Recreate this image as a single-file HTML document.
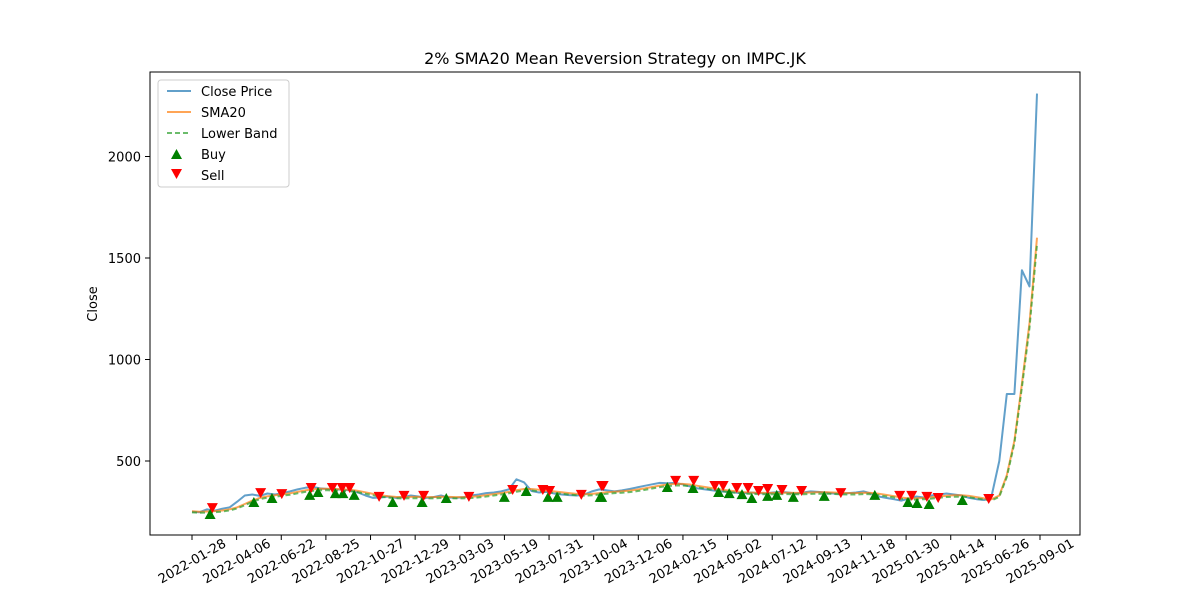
<!DOCTYPE html>
<html><head><meta charset="utf-8"><style>
body{margin:0;background:#fff;font-family:"Liberation Sans","DejaVu Sans",sans-serif}
svg text{font-family:"DejaVu Sans","Liberation Sans",sans-serif}
</style></head><body>
<svg id="chart" width="1200" height="600" xmlns="http://www.w3.org/2000/svg">
<rect width="1200" height="600" fill="#fff"/>
<text x="615" y="64" font-size="16" text-anchor="middle">2% SMA20 Mean Reversion Strategy on IMPC.JK</text>
<text transform="translate(97,304) rotate(-90)" font-size="13" text-anchor="middle">Close</text>
<g id="plot"></g>
<rect x="150" y="72" width="930" height="463" fill="none" stroke="#000" stroke-width="1"/>
<g>
<rect x="158" y="80" width="131" height="107" fill="#fff" fill-opacity="0.8" stroke="#ccc" rx="3"/>
<line x1="167" y1="91" x2="191" y2="91" stroke="#1f77b4" stroke-opacity="0.7" stroke-width="2"/>
<text x="201" y="96" font-size="13">Close Price</text>
<line x1="167" y1="112" x2="191" y2="112" stroke="#ff7f0e" stroke-opacity="0.7" stroke-width="2"/>
<text x="201" y="117" font-size="13">SMA20</text>
<line x1="167" y1="133" x2="191" y2="133" stroke="#2ca02c" stroke-opacity="0.7" stroke-width="2" stroke-dasharray="5,3"/>
<text x="201" y="138" font-size="13">Lower Band</text>
<polygon points="171,159 182,159 176.5,149" fill="#008000"/>
<text x="201" y="159" font-size="13">Buy</text>
<polygon points="171,169 182,169 176.5,179" fill="#ff0000"/>
<text x="201" y="180" font-size="13">Sell</text>
</g>
</svg>
<script>
const closeVals=[250,248,262,255,265,272,300,330,335,328,340,335,342,350,360,368,372,365,362,360,358,355,345,330,318,320,325,318,322,330,325,318,322,330,320,318,322,330,335,342,345,350,360,410,395,352,345,348,340,335,332,330,335,350,360,355,350,355,362,370,378,385,392,390,392,385,375,365,360,355,350,348,345,340,345,342,340,345,348,345,340,345,350,348,345,340,338,342,345,350,340,325,318,312,305,315,325,320,330,335,340,335,330,318,312,308,330,500,830,830,1440,1360,2310];
const smaVals=[252,250,251,253,256,262,272,288,305,318,326,331,336,341,348,355,360,363,363,362,360,358,353,346,338,331,326,323,322,323,323,322,322,324,323,322,322,324,327,332,337,342,348,356,362,362,358,354,350,346,342,338,336,338,342,346,349,351,354,359,365,372,379,384,387,387,384,378,372,366,360,355,351,347,345,344,343,343,344,344,343,343,345,346,346,345,343,342,342,344,343,339,333,327,320,316,316,318,321,325,329,331,331,328,322,316,312,330,430,600,880,1180,1600];
const buyIdx=[2.4,8.2,10.6,15.6,16.7,19.0,20.0,21.5,26.6,30.5,33.7,41.4,44.3,47.2,48.4,54.1,54.3,63.0,66.4,69.8,71.2,72.9,74.2,76.3,77.5,79.7,83.8,90.5,94.9,96.1,97.7,102.1];
const buyVals=[239,298,318,333,347,342,342,333,298,298,318,323,352,323,323,323,323,372,367,347,342,337,318,328,333,323,328,333,298,293,288,308];
const sellIdx=[2.7,9.1,11.9,15.8,18.6,19.9,20.9,24.8,28.1,30.7,36.7,42.5,46.5,47.4,51.6,54.3,54.5,64.1,66.5,69.3,70.4,72.2,73.7,75.1,76.3,78.2,80.8,86.0,93.8,95.4,97.4,98.9,105.6];
const sellVals=[268,342,337,367,367,367,367,323,328,328,323,357,357,352,333,377,377,402,402,377,377,367,367,352,362,357,352,342,328,328,323,318,313];
const tickLabels=["2022-01-28","2022-04-06","2022-06-22","2022-08-25","2022-10-27","2022-12-29","2023-03-03","2023-05-19","2023-07-31","2023-10-04","2023-12-06","2024-02-15","2024-05-02","2024-07-12","2024-09-13","2024-11-18","2025-01-30","2025-04-14","2025-06-26","2025-09-01"];
const yTicks=[500,1000,1500,2000];

const NS="http://www.w3.org/2000/svg";
const plot=document.getElementById('plot');
const X=i=>192+i*(845/112);
const Y=v=>461-(v-500)*0.203;
function mk(t,a){const e=document.createElementNS(NS,t);for(const k in a)e.setAttribute(k,a[k]);plot.appendChild(e);return e;}
const tickStep=(tickLabels.length>1)?(112*(848/845))/(tickLabels.length-1):0;
tickLabels.forEach((lab,k)=>{
  const x=X(k*tickStep);
  const t=mk('line',{x1:x,y1:535,x2:x,y2:540,stroke:'#000'});
  
  
  const cy=561;
  const tx=mk('text',{x:x,y:cy+4.5,'font-size':13,'text-anchor':'middle',transform:`rotate(-30 ${x} ${cy})`});
  tx.textContent=lab;
  
  
});
yTicks.forEach(v=>{
  const y=Y(v);
  const t=mk('line',{x1:145,y1:y,x2:150,y2:y,stroke:'#000'});
  
  
  const tx=mk('text',{x:141,y:y+5,'font-size':13,'text-anchor':'end'});
  tx.textContent=v;
  
  
});
const pts=a=>a.map((v,i)=>X(i).toFixed(1)+','+Y(v).toFixed(1)).join(' ');
const cl=mk('polyline',{points:pts(closeVals),fill:'none',stroke:'#1f77b4','stroke-opacity':0.7,'stroke-width':2,'stroke-linejoin':'round'});


const sm=mk('polyline',{points:pts(smaVals),fill:'none',stroke:'#ff7f0e','stroke-opacity':0.7,'stroke-width':2});


const lb=mk('polyline',{points:pts(smaVals.map(v=>v*0.98)),fill:'none',stroke:'#2ca02c','stroke-opacity':0.7,'stroke-width':2,'stroke-dasharray':'5,3'});


buyIdx.forEach((i,k)=>{
  const x=X(i),y=Y(buyVals[k]);
  const p=mk('polygon',{points:`${x-5.5},${y+5} ${x+5.5},${y+5} ${x},${y-5}`,fill:'#008000'});
  
  
});
sellIdx.forEach((i,k)=>{
  const x=X(i),y=Y(sellVals[k]);
  const p=mk('polygon',{points:`${x-5.5},${y-5} ${x+5.5},${y-5} ${x},${y+5}`,fill:'#ff0000'});
  
  
});
</script>
</body></html>
